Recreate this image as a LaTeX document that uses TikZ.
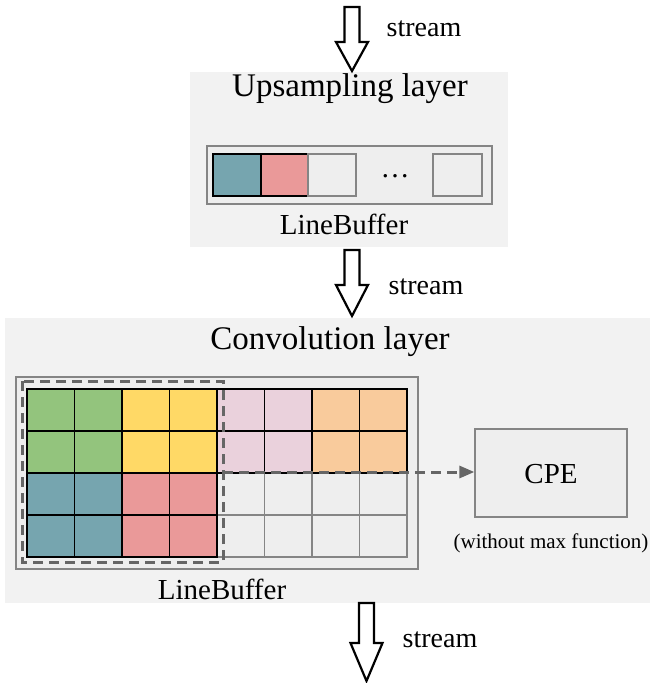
\documentclass[tikz,border=0pt]{standalone}
\usepackage{fontspec}
\setmainfont{Liberation Serif}
\usetikzlibrary{arrows.meta}
\definecolor{bgbox}{HTML}{F2F2F2}
\definecolor{lbfill}{HTML}{EEEEEE}
\definecolor{lbline}{HTML}{858585}
\definecolor{cgreen}{HTML}{93C47D}
\definecolor{cyellow}{HTML}{FFD966}
\definecolor{cpink}{HTML}{EAD1DC}
\definecolor{corange}{HTML}{F9CB9C}
\definecolor{cteal}{HTML}{76A5AF}
\definecolor{cred}{HTML}{EA9999}
\definecolor{dashgray}{HTML}{666666}
\tikzset{
  layerbox/.style={fill=bgbox, draw=none, inner sep=0pt},
  lbbox/.style={fill=lbfill, draw=lbline, line width=1.3pt, inner sep=0pt},
  cell/.style={draw=black, line width=1.1pt, inner sep=0pt, minimum width=47.5pt, minimum height=42pt},
  ecell/.style={fill=lbfill, draw=lbline, line width=1.1pt, inner sep=0pt, minimum width=47.5pt, minimum height=42pt},
  title/.style={font=\fontsize{33}{33}\selectfont, inner sep=0pt},
  lbl/.style={font=\fontsize{29}{29}\selectfont, inner sep=0pt},
  streamlbl/.style={font=\fontsize{28}{28}\selectfont, inner sep=0pt},
  small/.style={font=\fontsize{21}{21}\selectfont, inner sep=0pt},
  hollow/.style={draw=black, line width=2.2pt, fill=white, line join=miter},
  dashline/.style={draw=dashgray, line width=3pt, dash pattern=on 10pt off 6pt},
}
\newcommand{\blockarr}[4]{% x, ytop, yhead, ytip
  \draw[hollow] (#1-7.5,#2) -- (#1+7.5,#2) -- (#1+7.5,#3) -- (#1+16,#3) -- (#1,#4) -- (#1-16,#3) -- (#1-7.5,#3) -- cycle;}
\begin{document}
\begin{tikzpicture}[x=1pt,y=-1pt]
\useasboundingbox (0,0) rectangle (652,683);
% upsampling layer
\node[layerbox, minimum width=318pt, minimum height=175pt] (up) at (349,159.5) {};
\node[title] (uptitle) at (350,89) {Upsampling layer};
\node[lbbox, minimum width=285pt, minimum height=58pt] (uplb) at (349.5,175) {};
\node[cell, fill=cteal, minimum width=48pt] (u1) at (237,175) {};
\node[cell, fill=cred, minimum width=47pt] (u2) at (284.5,175) {};
\node[ecell, minimum width=48pt] (u3) at (332,175) {};
\node[lbl] (udots) at (395,176) {\dots};
\node[ecell, minimum width=49pt] (u4) at (457.5,175) {};
\node[lbl] (uplbtext) at (344,224) {LineBuffer};
% convolution layer
\node[layerbox, minimum width=645pt, minimum height=285pt] (conv) at (327.5,460.5) {};
\node[title] (convtitle) at (330,342) {Convolution layer};
\node[lbbox, minimum width=402pt, minimum height=192pt] (convlb) at (217,473) {};
% empty cells first
\foreach \c in {4,...,7}{
  \foreach \r in {2,3}{
    \node[ecell] (e\c\r) at ({27+47.5*\c+23.75},{389+42*\r+21}) {};
  }
}
\foreach \c/\r/\col in {0/0/cgreen,1/0/cgreen,0/1/cgreen,1/1/cgreen,
  2/0/cyellow,3/0/cyellow,2/1/cyellow,3/1/cyellow,
  4/0/cpink,5/0/cpink,4/1/cpink,5/1/cpink,
  6/0/corange,7/0/corange,6/1/corange,7/1/corange,
  0/2/cteal,1/2/cteal,0/3/cteal,1/3/cteal,
  2/2/cred,3/2/cred,2/3/cred,3/3/cred}{
  \node[cell, fill=\col] (g\c\r) at ({27+47.5*\c+23.75},{389+42*\r+21}) {};
}
\node[lbl] (convlbtext) at (222,589) {LineBuffer};
\draw[dashline] (22,381) rectangle (223,562);
\coordinate (dstart) at (223,472);
\node[fill=lbfill, draw=lbline, line width=1.3pt, inner sep=0pt, minimum width=152pt, minimum height=88pt] (cpe) at (551,473) {};
\node[font=\fontsize{29}{29}\selectfont, inner sep=0pt] (cpetext) at (551,474) {CPE};
\node[small] (cpenote) at (551,543) {(without max function)};
\draw[dashline, -{Triangle[length=15pt,width=12pt]}] (dstart) -- (cpe.west |- dstart);
% stream arrows
\blockarr{352}{7}{42}{71}
\node[streamlbl] (s1) at (424,29) {stream};
\blockarr{352}{250}{285}{316}
\node[streamlbl] (s2) at (426,287) {stream};
\blockarr{366.5}{603}{643}{681}
\node[streamlbl] (s3) at (440,640) {stream};
\end{tikzpicture}
\end{document}
